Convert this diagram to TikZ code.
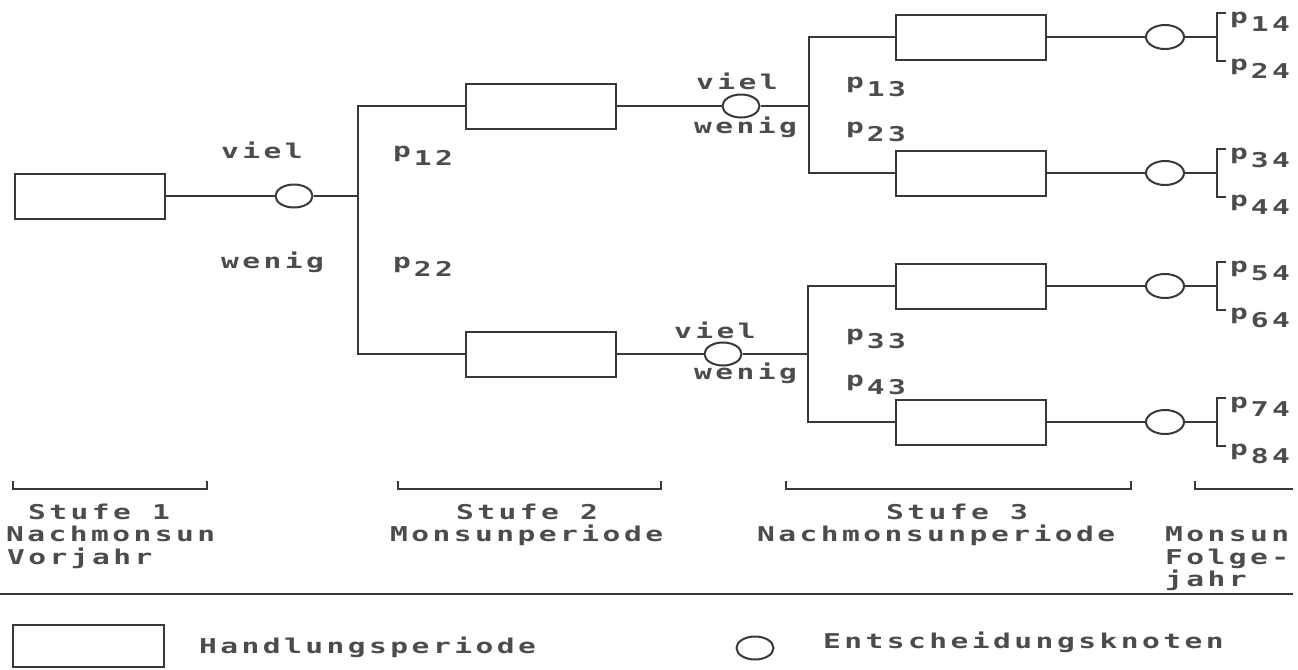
\documentclass[tikz,border=0pt]{standalone}
\usepackage{fontspec}
\newfontfamily\plotfont[FakeStretch=1.45,LetterSpace=17]{DejaVu Sans Mono Bold}
\usetikzlibrary{calc,shapes.geometric}
\newcommand{\plottext}{\plotfont\fontsize{10.2pt}{12pt}\selectfont}
\newcommand{\psub}[1]{p\kern1.5pt\raisebox{-0.4em}{#1}}

\begin{document}
\begin{tikzpicture}[
      x=0.5pt, y=-0.5pt, line width=1pt, color=black!78,
      period/.style={draw, rectangle, minimum width=75pt, minimum height=22.5pt, inner sep=0pt},
      knot/.style={draw, ellipse, minimum width=18.5pt, minimum height=11.5pt, inner sep=0pt},
      lbl/.style={anchor=base west, inner sep=0pt, font=\plottext, text=black!70}
    ]
      \useasboundingbox (0,0) rectangle (1298,670);

      % Stage 1
      \node[period] (b1) at (90,196) {};
      \node[knot] (c1) at (294,196) {};
      \coordinate (j1) at (358,196);
      \draw (b1) -- (c1) -- (j1);
      \node[lbl] (viel1) at (220,158) {viel};
      \node[lbl] (wenig1) at (220,268) {wenig};

      % Stage 2
      \node[period] (b2a) at (541,106) {};
      \node[period] (b2b) at (541,354) {};
      \draw (b2a) -| (j1) |- (b2b);
      \node[lbl] (p12) at (392,157) {\psub{12}};
      \node[lbl] (p22) at (392,268) {\psub{22}};
      \node[knot] (c2a) at (741,106) {};
      \node[knot] (c2b) at (723,354) {};
      \coordinate (j2a) at (809,106);
      \coordinate (j2b) at (808,354);
      \draw (b2a) -- (c2a) -- (j2a);
      \draw (b2b) -- (c2b) -- (j2b);
      \node[lbl] (viel2a) at (695,89) {viel};
      \node[lbl] (wenig2a) at (693,133) {wenig};
      \node[lbl] (viel2b) at (673,338) {viel};
      \node[lbl] (wenig2b) at (693,379) {wenig};

      % Stage 3
      \node[period] (b3a) at (971,37) {};
      \node[period] (b3b) at (971,173) {};
      \node[period] (b3c) at (971,286) {};
      \node[period] (b3d) at (971,422) {};
      \draw (b3a) -| (j2a) |- (b3b);
      \draw (b3c) -| (j2b) |- (b3d);
      \node[lbl] (p13) at (845,88) {\psub{13}};
      \node[lbl] (p23) at (845,133) {\psub{23}};
      \node[lbl] (p33) at (845,340) {\psub{33}};
      \node[lbl] (p43) at (845,386) {\psub{43}};

      % Stage 4: decision and outcome probabilities
      \foreach \n/\y/\pa/\pb in {a/37/14/24, b/173/34/44, c/286/54/64, d/422/74/84} {
        \node[knot, minimum width=19pt, minimum height=12pt] (c3\n) at (1165,\y) {};
        \coordinate (k\n) at (1217,\y);
        \draw (b3\n) -- (c3\n) -- (k\n);
        \draw ($(k\n)+(9,-24)$) -- ++(-9,0) -- ++(0,48) -- ++(9,0);
        \node[lbl] (p\pa) at ($(k\n)+(12,-14)$) {\psub{\pa}};
        \node[lbl] (p\pb) at ($(k\n)+(12,33)$) {\psub{\pb}};
      }

      % Stage brackets and captions
      \foreach \l/\r in {13/207, 398/661, 786/1131}
        \draw (\l,481) |- (\r,489) -- (\r,481);
      \draw (1195,481) |- (1293,489);
      \node[lbl] (s1a) at (27,519) {Stufe 1};
      \node[lbl] (s1b) at (5,541) {Nachmonsun};
      \node[lbl] (s1c) at (6,564) {Vorjahr};
      \node[lbl] (s2a) at (455,519) {Stufe 2};
      \node[lbl] (s2b) at (389,541) {Monsunperiode};
      \node[lbl] (s3a) at (885,519) {Stufe 3};
      \node[lbl] (s3b) at (756,541) {Nachmonsunperiode};
      \node[lbl] (s4a) at (1164,541) {Monsun};
      \node[lbl] (s4b) at (1164,564) {Folge-};
      \node[lbl] (s4c) at (1164,586) {jahr};

      % Legend
      \draw (0,594) -- (1293,594);
      \node[period, minimum width=75.5pt, minimum height=21pt] (legbox) at (88.5,646) {};
      \node[lbl] (leglbl1) at (198,653) {Handlungsperiode};
      \node[knot] (legknot) at (755,648) {};
      \node[lbl] (leglbl2) at (822,648) {Entscheidungsknoten};
    \end{tikzpicture}
\end{document}
